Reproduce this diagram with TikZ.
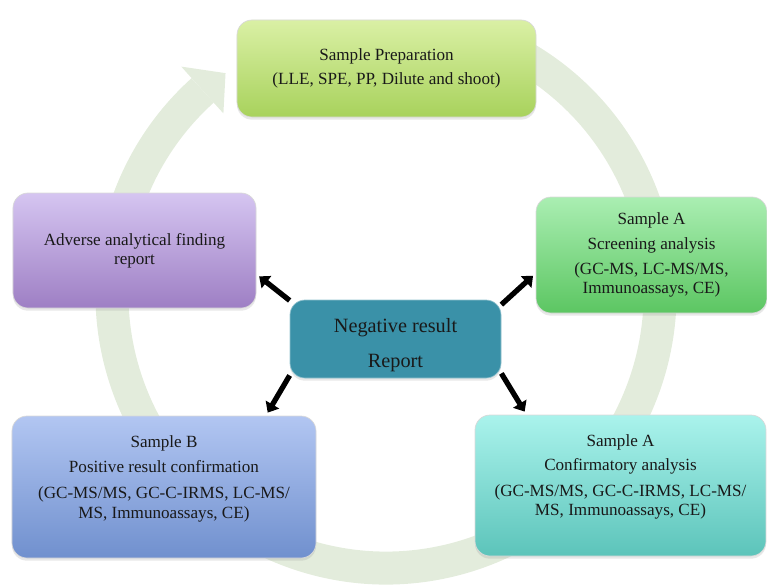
\documentclass[tikz,border=0pt]{standalone}
\usepackage{fontspec}
\setmainfont{Liberation Serif}
\usepackage{tikz}
\usetikzlibrary{arrows.meta,positioning,calc,shadows}

\definecolor{ringgreen}{RGB}{227,236,220}
\definecolor{prepTop}{RGB}{218,240,165}
\definecolor{prepBot}{RGB}{168,210,92}
\definecolor{advTop}{RGB}{213,197,241}
\definecolor{advBot}{RGB}{158,127,196}
\definecolor{scrTop}{RGB}{170,238,178}
\definecolor{scrBot}{RGB}{92,198,98}
\definecolor{negFill}{RGB}{58,145,168}
\definecolor{sbTop}{RGB}{178,198,242}
\definecolor{sbBot}{RGB}{112,144,206}
\definecolor{confTop}{RGB}{170,243,236}
\definecolor{confBot}{RGB}{92,196,186}

\newcommand{\lowstrut}[1]{\rule[-#1]{0pt}{0pt}}
\newcommand{\highstrut}[1]{\rule{0pt}{#1}}

\begin{document}
\begin{tikzpicture}[x=0.03cm,y=0.03cm,
  box/.style={rounded corners=0.45cm, align=center, inner sep=0pt, text=black!90,
    font=\fontsize{14.6}{16.5}\selectfont, draw=white!70!gray, line width=0.6pt,
    drop shadow={opacity=0.18,shadow xshift=0pt,shadow yshift=-0.08cm}},
  ring/.style={draw=ringgreen, line width=0.99cm},
  flow/.style={line width=4.5pt, -{Triangle[length=8pt,width=13pt]}, shorten >=3pt}]
  \useasboundingbox (0,0) rectangle (767,-586); % 画像の範囲

  \coordinate (c) at (386,-294); % 円環の中心
  \draw[ring] ($(c)+(70:274)$) arc[start angle=70,end angle=-228,radius=274]; % 背景の円環
  \fill[ringgreen] ($(c)+(126:273)$) -- ($(c)+(132:306)$) -- ($(c)+(132:243)$) -- cycle; % 円環の矢じり

  \node[box, top color=prepTop, bottom color=prepBot, minimum width=8.97cm, minimum height=2.91cm]
    (prep) at (386.5,-68.5) {Sample Preparation\\[4.5pt](LLE, SPE, PP, Dilute and shoot)}; % 前処理
  \node[box, top color=advTop, bottom color=advBot, minimum width=7.29cm, minimum height=3.45cm]
    (adv) at (134.5,-250.5) {Adverse analytical finding\\report}; % 陽性報告
  \node[box, top color=scrTop, bottom color=scrBot, minimum width=6.93cm, minimum height=3.48cm]
    (scr) at (651.5,-255) {Sample A\\[4.5pt]Screening analysis\\[5pt](GC-MS, LC-MS/MS,\\Immunoassays, CE)}; % スクリーニング
  \node[box, fill=negFill, draw=negFill!55!white, minimum width=6.33cm, minimum height=2.34cm,
    font=\fontsize{17.3}{20}\selectfont]
    (neg) at (395.5,-339) {\highstrut{22pt}Negative result\\[10pt]Report}; % 陰性報告
  \node[box, top color=sbTop, bottom color=sbBot, minimum width=9.12cm, minimum height=4.26cm]
    (sb) at (164,-487) {Sample B\\[4.5pt]Positive result confirmation\\[6pt](GC-MS/MS, GC-C-IRMS, LC-MS/\\MS, Immunoassays, CE)\lowstrut{17pt}}; % 検体B
  \node[box, top color=confTop, bottom color=confBot, minimum width=8.73cm, minimum height=4.23cm]
    (conf) at (620.5,-485.5) {Sample A\\[4.5pt]Confirmatory analysis\\[5pt](GC-MS/MS, GC-C-IRMS, LC-MS/\\MS, Immunoassays, CE)\lowstrut{18pt}}; % 確認分析

  \draw[flow] (neg.160) -- (adv.-11); % 左上への矢印
  \draw[flow] (neg.18) -- (scr.189); % 右上への矢印
  \draw[flow] (neg.199) -- (sb.35); % 左下への矢印
  \draw[flow] (neg.-18) -- (conf.143); % 右下への矢印
\end{tikzpicture}
\end{document}
